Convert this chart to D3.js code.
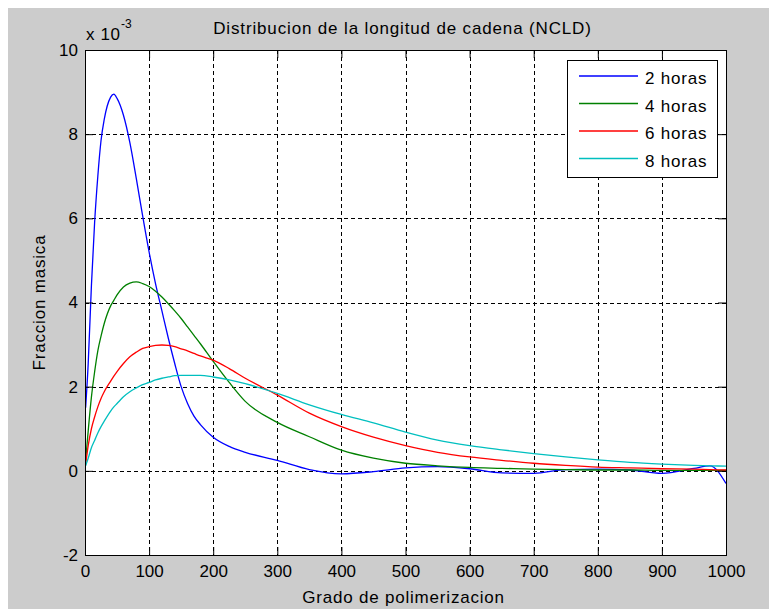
<!DOCTYPE html>
<html>
<head>
<meta charset="utf-8">
<script src="https://cdn.jsdelivr.net/npm/d3@7"></script>
<style>
  body { margin: 0; background: #fff; }
  svg text { font-family: "Liberation Sans", Arial, sans-serif; }
</style>
</head>
<body>
<div id="chart"></div>
<script>
// Grado de polimerizacion (shared x values)
const grado = [1, 5, 10, 15, 20, 25, 30, 40, 45, 50, 60, 70, 80, 90, 100, 110, 120, 130, 140, 150,
  160, 170, 180, 200, 225, 250, 300, 350, 400, 450, 500, 550, 600, 650, 700, 750, 800, 850, 900, 950, 975, 1000];

// Fraccion masica, in units of 1e-3
const horas2 = [1.5, 2.55, 4.4, 5.9, 7.0, 7.85, 8.35, 8.88, 8.95, 8.85, 8.45, 7.8, 6.95, 6.05, 5.2, 4.45, 3.8, 3.15, 2.55, 2.0,
  1.6, 1.3, 1.1, 0.8, 0.58, 0.44, 0.25, 0.03, -0.07, -0.02, 0.07, 0.1, 0.05, -0.05, -0.06, 0.03, 0.04, 0.02, -0.06, 0.06, 0.12, -0.3];
const horas4 = [0.25, 0.95, 1.75, 2.35, 2.85, 3.2, 3.5, 3.92, 4.05, 4.18, 4.37, 4.46, 4.49, 4.45, 4.38, 4.27, 4.13, 3.97, 3.8, 3.62,
  3.42, 3.22, 3.02, 2.6, 2.1, 1.65, 1.15, 0.81, 0.49, 0.3, 0.18, 0.12, 0.08, 0.06, 0.04, 0.03, 0.02, 0.02, 0.01, 0.01, 0.01, 0.01];
const horas6 = [0.15, 0.6, 1.0, 1.28, 1.52, 1.72, 1.88, 2.13, 2.25, 2.36, 2.55, 2.71, 2.82, 2.91, 2.95, 2.98, 2.99, 2.98, 2.95, 2.9,
  2.85, 2.79, 2.73, 2.63, 2.43, 2.2, 1.8, 1.37, 1.05, 0.8, 0.6, 0.44, 0.33, 0.25, 0.18, 0.13, 0.09, 0.07, 0.05, 0.04, 0.03, 0.02];
const horas8 = [0.12, 0.3, 0.55, 0.72, 0.9, 1.05, 1.18, 1.42, 1.52, 1.6, 1.76, 1.88, 1.97, 2.05, 2.1, 2.16, 2.2, 2.23, 2.26, 2.27,
  2.27, 2.27, 2.27, 2.23, 2.16, 2.07, 1.84, 1.57, 1.34, 1.14, 0.92, 0.73, 0.6, 0.5, 0.41, 0.33, 0.26, 0.2, 0.16, 0.13, 0.12, 0.11];

const seriesNames = ["2 horas", "4 horas", "6 horas", "8 horas"];
const seriesValues = [horas2, horas4, horas6, horas8];
const seriesColors = ["#0000ff", "#008000", "#ff0000", "#00bfbf"];

const xTicks = [0, 100, 200, 300, 400, 500, 600, 700, 800, 900, 1000];
const yTicks = [-2, 0, 2, 4, 6, 8, 10];

const W = 769, H = 609;
const plot = { left: 85, right: 726, top: 50, bottom: 555 };
const font = 17;

const svg = d3.select("#chart").append("svg")
  .attr("width", W)
  .attr("height", H);

// figure background
svg.append("rect")
  .attr("x", 8).attr("y", 8)
  .attr("width", W - 8).attr("height", H - 8)
  .attr("fill", "#cccccc");

const x = d3.scaleLinear().domain([0, 1000]).range([plot.left, plot.right]);
const y = d3.scaleLinear().domain([-2, 10]).range([plot.bottom, plot.top]);

// axes background
svg.append("rect")
  .attr("x", plot.left).attr("y", plot.top)
  .attr("width", plot.right - plot.left).attr("height", plot.bottom - plot.top)
  .attr("fill", "#fff");

svg.append("clipPath").attr("id", "clip")
  .append("rect")
  .attr("x", plot.left).attr("y", plot.top)
  .attr("width", plot.right - plot.left).attr("height", plot.bottom - plot.top);

// grid
const grid = svg.append("g")
  .attr("stroke", "#000")
  .attr("stroke-width", 1)
  .attr("stroke-dasharray", "4,3");

grid.selectAll(".vgrid")
  .data(xTicks.slice(1, -1))
  .enter().append("line")
  .attr("x1", d => Math.round(x(d)) + 0.5)
  .attr("x2", d => Math.round(x(d)) + 0.5)
  .attr("y1", plot.top)
  .attr("y2", plot.bottom);

grid.selectAll(".hgrid")
  .data(yTicks.slice(1, -1))
  .enter().append("line")
  .attr("y1", d => Math.round(y(d)) + 0.5)
  .attr("y2", d => Math.round(y(d)) + 0.5)
  .attr("x1", plot.left)
  .attr("x2", plot.right);

// data lines
const line = d3.line()
  .x((d, i) => x(grado[i]))
  .y(d => y(d))
  .curve(d3.curveMonotoneX);

svg.append("g")
  .attr("clip-path", "url(#clip)")
  .selectAll("path")
  .data(seriesValues)
  .enter().append("path")
  .attr("d", d => line(d))
  .attr("fill", "none")
  .attr("stroke", (d, i) => seriesColors[i])
  .attr("stroke-width", 1.3);

// axes, ticks inward
const tickLen = 8;
const plain = d => String(d);

function styleAxis(g) {
  g.attr("font-size", font)
    .attr("font-family", "'Liberation Sans', Arial, sans-serif");
  g.selectAll("path, line").attr("stroke", "#000");
  g.selectAll("text").attr("fill", "#000");
}

svg.append("g")
  .attr("transform", `translate(0,${plot.bottom})`)
  .call(d3.axisBottom(x).tickValues(xTicks).tickFormat(plain).tickSizeInner(-tickLen).tickSizeOuter(0).tickPadding(10))
  .call(styleAxis);

svg.append("g")
  .attr("transform", `translate(0,${plot.top})`)
  .call(d3.axisTop(x).tickValues(xTicks).tickSizeInner(-tickLen).tickSizeOuter(0).tickFormat(""))
  .call(styleAxis);

svg.append("g")
  .attr("transform", `translate(${plot.left},0)`)
  .call(d3.axisLeft(y).tickValues(yTicks).tickFormat(plain).tickSizeInner(-tickLen).tickSizeOuter(0).tickPadding(7))
  .call(styleAxis);

svg.append("g")
  .attr("transform", `translate(${plot.right},0)`)
  .call(d3.axisRight(y).tickValues(yTicks).tickSizeInner(-tickLen).tickSizeOuter(0).tickFormat(""))
  .call(styleAxis);

// box
svg.append("rect")
  .attr("x", plot.left + 0.5).attr("y", plot.top + 0.5)
  .attr("width", plot.right - plot.left).attr("height", plot.bottom - plot.top)
  .attr("fill", "none")
  .attr("stroke", "#000");

// exponent label
svg.append("text")
  .attr("x", 86).attr("y", 40)
  .attr("font-size", font)
  .attr("letter-spacing", 0.6)
  .text("x 10");
svg.append("text")
  .attr("x", 121).attr("y", 28)
  .attr("font-size", 12)
  .text("-3");

// title and axis labels
const midX = (plot.left + plot.right) / 2;
svg.append("text")
  .attr("x", midX - 3).attr("y", 34)
  .attr("text-anchor", "middle")
  .attr("font-size", font)
  .attr("letter-spacing", 0.85)
  .text("Distribucion de la longitud de cadena (NCLD)");

svg.append("text")
  .attr("x", midX - 2).attr("y", 603)
  .attr("text-anchor", "middle")
  .attr("font-size", font)
  .attr("letter-spacing", 0.8)
  .text("Grado de polimerizacion");

svg.append("text")
  .attr("transform", `translate(45,${(plot.top + plot.bottom) / 2}) rotate(-90)`)
  .attr("text-anchor", "middle")
  .attr("font-size", font)
  .attr("letter-spacing", 0.8)
  .text("Fraccion masica");

// legend
const legend = svg.append("g");
legend.append("rect")
  .attr("x", 567.5).attr("y", 60.5)
  .attr("width", 150).attr("height", 117)
  .attr("fill", "#fff")
  .attr("stroke", "#000");

seriesNames.forEach((name, i) => {
  const ly = 76 + i * 27.5;
  legend.append("line")
    .attr("x1", 579).attr("x2", 638)
    .attr("y1", ly).attr("y2", ly)
    .attr("stroke", seriesColors[i])
    .attr("stroke-width", 1.3);
  legend.append("text")
    .attr("x", 645).attr("y", ly + 8)
    .attr("font-size", font)
    .attr("letter-spacing", 0.8)
    .text(name);
});
</script>
</body>
</html>
